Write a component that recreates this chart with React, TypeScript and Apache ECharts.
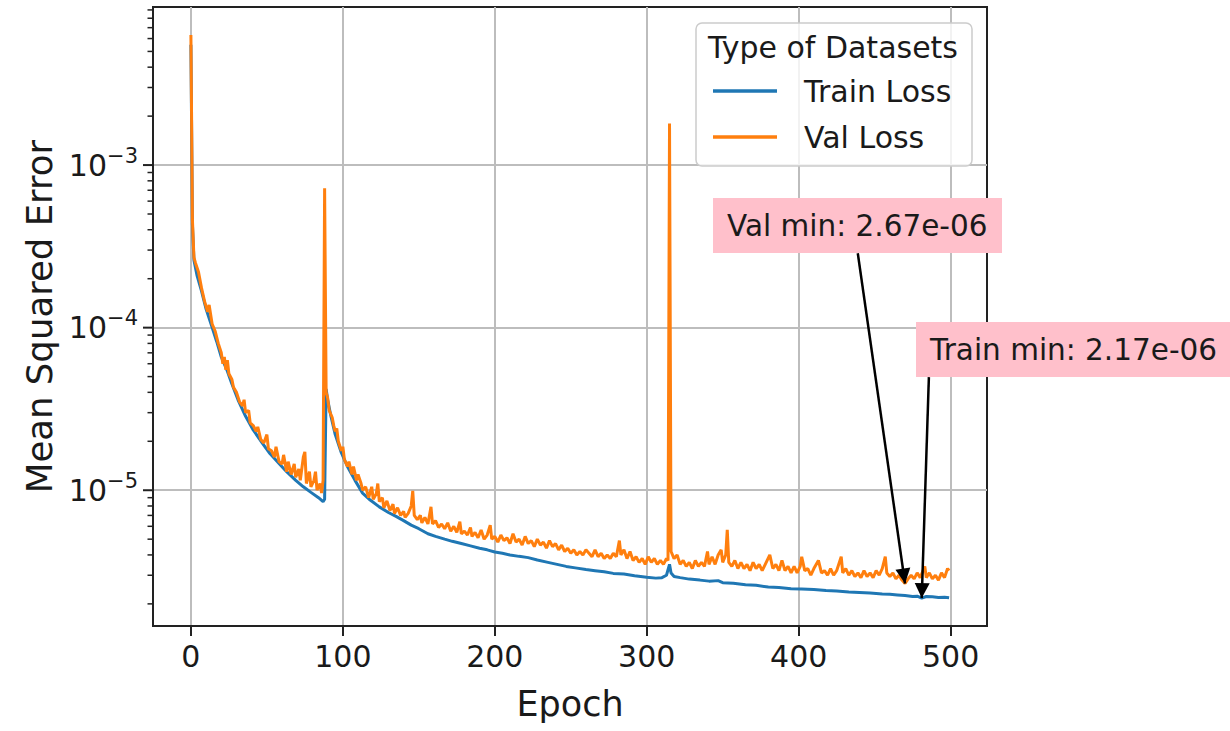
import React, { useEffect, useRef } from "react";
import * as echarts from "echarts";

// ---- data ----
const trainEpoch = [0,1,2,4,7,10,14,17,20,24,27,31,36,41,47,52,58,63,69,74,79,84,87,88,89,90,92,95,99,103,108,113,118,124,130,135,140,145,150,156,161,167,172,178,184,190,195,200,205,210,216,222,228,235,241,247,253,260,266,272,278,285,292,300,306,310,313,315,316,318,322,328,335,341,347,350,357,365,372,380,387,395,402,410,418,425,433,440,447,455,460,465,470,475,478,481,484,488,492,496,499];
const trainLoss = [5.5e-3,4.3e-4,2.6e-4,2.1e-4,1.68e-4,1.3e-4,1.0e-4,8.2e-5,6.6e-5,5.4e-5,4.5e-5,3.6e-5,2.85e-5,2.35e-5,1.95e-5,1.68e-5,1.46e-5,1.3e-5,1.15e-5,1.05e-5,9.7e-6,9.0e-6,8.5e-6,8.8e-6,4.2e-5,3.6e-5,2.9e-5,2.2e-5,1.7e-5,1.4e-5,1.15e-5,9.6e-6,8.7e-6,7.9e-6,7.3e-6,6.9e-6,6.5e-6,6.1e-6,5.8e-6,5.4e-6,5.2e-6,5.0e-6,4.85e-6,4.7e-6,4.55e-6,4.4e-6,4.3e-6,4.17e-6,4.1e-6,4.0e-6,3.92e-6,3.85e-6,3.72e-6,3.6e-6,3.5e-6,3.4e-6,3.33e-6,3.25e-6,3.2e-6,3.15e-6,3.08e-6,3.05e-6,2.98e-6,2.92e-6,2.88e-6,2.9e-6,3.0e-6,3.5e-6,3.1e-6,2.95e-6,2.9e-6,2.84e-6,2.8e-6,2.76e-6,2.78e-6,2.7e-6,2.68e-6,2.62e-6,2.6e-6,2.54e-6,2.52e-6,2.48e-6,2.47e-6,2.45e-6,2.42e-6,2.4e-6,2.37e-6,2.35e-6,2.33e-6,2.3e-6,2.29e-6,2.27e-6,2.25e-6,2.22e-6,2.23e-6,2.17e-6,2.22e-6,2.21e-6,2.19e-6,2.2e-6,2.18e-6];

const valEpoch = [0,1,2,3,5,7,9,11,12,14,16,18,20,21,22,23,24,25,27,28,30,32,34,35,36,38,39,41,43,44,46,48,50,51,53,55,56,58,60,61,63,64,66,68,69,71,72,74,75,76,78,79,81,82,83,85,86,87,88,89,90,91,93,94,95,96,97,99,100,101,103,104,106,107,109,110,112,113,115,117,119,120,122,123,124,126,127,129,131,133,134,136,138,140,141,143,145,146,147,149,151,152,154,156,158,159,161,163,165,167,169,171,173,175,177,178,180,182,184,185,187,189,191,193,195,197,198,200,202,204,206,208,210,212,214,216,218,220,222,224,226,228,230,232,234,236,238,240,242,244,246,248,250,252,254,256,258,260,262,264,266,268,270,272,274,276,278,280,282,283,285,287,289,291,293,295,297,299,301,303,305,307,309,311,313,314,315,316,318,320,322,324,326,328,330,332,334,336,338,340,341,343,345,347,349,350,352,353,354,356,358,360,362,364,366,368,370,372,374,376,378,381,383,385,387,389,391,393,395,397,399,401,402,404,406,408,410,413,415,417,419,421,423,425,428,429,431,433,435,437,439,441,443,445,447,449,451,453,455,457,458,460,462,464,466,468,470,472,474,476,478,480,483,484,486,488,490,492,494,496,498,499];
const valLoss = [6.3e-3,4.6e-4,2.7e-4,2.5e-4,2.2e-4,1.75e-4,1.45e-4,1.25e-4,1.38e-4,1.05e-4,9.5e-5,8.0e-5,7.0e-5,6.0e-5,6.6e-5,5.5e-5,6.3e-5,5.2e-5,4.8e-5,4.3e-5,4.0e-5,3.5e-5,3.3e-5,3.6e-5,3.0e-5,3.1e-5,2.6e-5,2.5e-5,2.3e-5,2.45e-5,2.05e-5,1.95e-5,2.2e-5,1.8e-5,1.75e-5,1.6e-5,1.85e-5,1.5e-5,1.45e-5,1.65e-5,1.3e-5,1.5e-5,1.25e-5,1.45e-5,1.2e-5,1.35e-5,1.15e-5,1.6e-5,1.72e-5,1.1e-5,1.3e-5,1.05e-5,1.15e-5,1.3e-5,1.0e-5,1.1e-5,9.6e-6,1.15e-5,7.2e-4,4.0e-5,3.7e-5,3.1e-5,2.8e-5,2.5e-5,2.3e-5,2.4e-5,2.0e-5,1.75e-5,1.85e-5,1.55e-5,1.4e-5,1.5e-5,1.25e-5,1.4e-5,1.15e-5,1.25e-5,1.1e-5,1.0e-5,1.05e-5,9.0e-6,1.05e-5,8.8e-6,9.5e-6,1.1e-5,8.5e-6,9.0e-6,7.8e-6,8.6e-6,7.5e-6,8.2e-6,7.2e-6,7.8e-6,7.0e-6,7.4e-6,6.8e-6,7.2e-6,8.0e-6,9.9e-6,7.0e-6,6.6e-6,7.0e-6,6.3e-6,6.8e-6,6.2e-6,7.9e-6,6.2e-6,6.5e-6,5.9e-6,6.2e-6,5.8e-6,6.3e-6,5.6e-6,6.0e-6,5.5e-6,6.4e-6,5.4e-6,5.6e-6,5.3e-6,5.9e-6,5.2e-6,5.5e-6,5.1e-6,5.7e-6,5.0e-6,5.3e-6,6.1e-6,5.0e-6,5.2e-6,4.8e-6,5.3e-6,4.9e-6,5.1e-6,4.7e-6,5.4e-6,4.8e-6,5.0e-6,4.6e-6,5.2e-6,4.7e-6,4.9e-6,4.5e-6,5.0e-6,4.6e-6,4.8e-6,4.4e-6,4.9e-6,4.5e-6,4.7e-6,4.3e-6,4.6e-6,4.2e-6,4.4e-6,4.1e-6,4.3e-6,4.0e-6,4.2e-6,4.0e-6,4.3e-6,4.1e-6,3.9e-6,4.3e-6,3.9e-6,4.1e-6,3.8e-6,4.0e-6,3.8e-6,4.1e-6,3.9e-6,4.9e-6,4.0e-6,4.3e-6,3.8e-6,4.2e-6,3.7e-6,3.9e-6,3.6e-6,3.8e-6,3.5e-6,3.9e-6,3.6e-6,3.8e-6,3.5e-6,3.7e-6,3.5e-6,3.8e-6,3.7e-6,1.8e-3,4.2e-6,3.8e-6,4.0e-6,3.5e-6,3.7e-6,3.4e-6,3.6e-6,3.3e-6,3.7e-6,3.4e-6,3.6e-6,3.4e-6,4.2e-6,3.5e-6,3.9e-6,3.5e-6,4.0e-6,4.3e-6,3.6e-6,4.0e-6,5.7e-6,3.6e-6,3.4e-6,3.7e-6,3.3e-6,3.6e-6,3.3e-6,3.5e-6,3.2e-6,3.6e-6,3.3e-6,3.5e-6,3.2e-6,3.5e-6,4.0e-6,3.3e-6,3.5e-6,3.2e-6,3.7e-6,3.2e-6,3.4e-6,3.1e-6,3.4e-6,3.1e-6,3.4e-6,3.9e-6,3.2e-6,3.3e-6,3.0e-6,3.3e-6,3.7e-6,3.1e-6,3.2e-6,3.0e-6,3.3e-6,3.0e-6,3.2e-6,3.9e-6,3.1e-6,3.3e-6,3.0e-6,3.2e-6,2.95e-6,3.1e-6,2.9e-6,3.2e-6,2.95e-6,3.1e-6,2.9e-6,3.2e-6,3.0e-6,3.3e-6,3.9e-6,3.1e-6,2.95e-6,3.1e-6,2.85e-6,3.0e-6,2.8e-6,2.67e-6,2.85e-6,3.0e-6,2.85e-6,3.1e-6,2.9e-6,3.4e-6,2.9e-6,3.1e-6,2.85e-6,3.0e-6,2.8e-6,3.1e-6,2.9e-6,3.3e-6,3.2e-6];

const xTickValues = [0, 100, 200, 300, 400, 500];
const yMajorTickValues = [1e-5, 1e-4, 1e-3];
const minorMantissas = [2, 3, 4, 5, 6, 7, 8, 9];
const minorExponents = [-6, -5, -4, -3];

const valMin = { epoch: 470, value: 2.67e-6, text: "Val min: 2.67e-06" };
const trainMin = { epoch: 481, value: 2.17e-6, text: "Train min: 2.17e-06" };
const valArrowStart = [438.9, 2.87e-4];
const trainArrowStart = [485.7, 4.96e-5];

const X_MIN = -24.95;
const X_MAX = 523.95;
const Y_MIN = 1.462e-6;
const Y_MAX = 9.38e-3;

const FONT = '"DejaVu Sans", "Noto Sans", sans-serif';
const TXT = "#1a1a1a";
const BLUE = "#1f77b4";
const ORANGE = "#ff7f0e";
const HEAD = 15;

export default function App() {
  const ref = useRef<HTMLDivElement>(null);

  useEffect(() => {
    if (!ref.current) return;
    const chart = echarts.init(ref.current, undefined, { renderer: "svg" });

    const minorTicks: number[] = [];
    minorExponents.forEach((e) =>
      minorMantissas.forEach((m) => {
        const v = m * Math.pow(10, e);
        if (v > Y_MIN && v < Y_MAX) minorTicks.push(v);
      })
    );

    const tickSeries = (vals: number[], len: number, lw: number, name: string) => ({
      type: "custom",
      name,
      silent: true,
      clip: false,
      z: 3,
      data: vals.map((v) => [X_MIN, v]),
      renderItem: (_p: any, api: any) => {
        const pt = api.coord([api.value(0), api.value(1)]);
        return {
          type: "line",
          shape: { x1: pt[0] - len, y1: pt[1], x2: pt[0], y2: pt[1] },
          style: { stroke: "#222", lineWidth: lw },
        };
      },
    });

    const option: any = {
      animation: false,
      backgroundColor: "#ffffff",
      grid: {
        left: 153,
        right: 243,
        top: 7,
        bottom: 105,
        show: true,
        borderColor: "#222",
        borderWidth: 2,
        backgroundColor: "transparent",
        containLabel: false,
        outerBoundsMode: "none",
      },
      legend: {
        data: [
          { name: "Train Loss", icon: "rect" },
          { name: "Val Loss", icon: "rect" },
        ],
        orient: "vertical",
        left: 708,
        top: 70,
        itemWidth: 64,
        itemHeight: 3.5,
        itemGap: 14,
        selectedMode: false,
        z: 6,
        textStyle: {
          fontFamily: FONT,
          fontSize: 30,
          color: TXT,
          lineHeight: 32,
          padding: [0, 0, 0, 22],
        },
      },
      xAxis: {
        type: "value",
        min: X_MIN,
        max: X_MAX,
        name: "Epoch",
        nameLocation: "middle",
        nameGap: 60,
        nameTextStyle: { fontFamily: FONT, fontSize: 35, color: TXT },
        axisLine: { show: true, onZero: false, lineStyle: { color: "#222", width: 2 } },
        axisTick: {
          show: true,
          length: 10,
          lineStyle: { color: "#222", width: 2 },
          customValues: xTickValues,
        },
        axisLabel: {
          customValues: xTickValues,
          fontFamily: FONT,
          fontSize: 30,
          color: TXT,
          margin: 15,
          formatter: (v: number) =>
            Math.abs(v - Math.round(v)) < 1e-6 && xTickValues.indexOf(Math.round(v)) >= 0 ? String(Math.round(v)) : "",
        },
        splitLine: {
          show: true,
          lineStyle: { color: "#bdbdbd", width: 2 },
        },
      },
      yAxis: {
        type: "log",
        logBase: 10,
        min: Y_MIN,
        max: Y_MAX,
        name: "Mean Squared Error",
        nameLocation: "middle",
        nameGap: 92,
        nameTextStyle: { fontFamily: FONT, fontSize: 35.5, color: TXT },
        axisLine: { show: true, onZero: false, lineStyle: { color: "#222", width: 2 } },
        axisTick: { show: false },
        minorTick: { show: false },
        axisLabel: {
          margin: 15,
          showMinLabel: false,
          showMaxLabel: false,
          formatter: (v: number) => {
            const e = Math.log10(v);
            const r = Math.round(e);
            if (Math.abs(e - r) > 1e-6) return "";
            return "{b|10}{s|\u2212" + String(-r) + "}";
          },
          rich: {
            b: { fontFamily: FONT, fontSize: 30, color: TXT, lineHeight: 40, verticalAlign: "middle" },
            s: { fontFamily: FONT, fontSize: 21, color: TXT, lineHeight: 20, verticalAlign: "top" },
          },
        },
        splitLine: {
          show: true,
          showMinLine: false,
          showMaxLine: false,
          lineStyle: { color: "#bdbdbd", width: 2 },
        },
      },
      series: [
        {
          name: "Train Loss",
          type: "line",
          data: trainEpoch.map((e, i) => [e, trainLoss[i]]),
          symbol: "none",
          showSymbol: false,
          lineStyle: { color: BLUE, width: 3 },
          itemStyle: { color: BLUE },
          z: 2,
        },
        {
          name: "Val Loss",
          type: "line",
          data: valEpoch.map((e, i) => [e, valLoss[i]]),
          symbol: "none",
          showSymbol: false,
          lineStyle: { color: ORANGE, width: 3 },
          itemStyle: { color: ORANGE },
          z: 3,
          markLine: {
            silent: true,
            symbol: ["none", "triangle"],
            symbolSize: HEAD,
            label: { show: false },
            lineStyle: { color: "#000", width: 2.5, type: "solid", opacity: 1 },
            emphasis: { disabled: true },
            z: 7,
            data: [
              [
                { coord: valArrowStart },
                { coord: [valMin.epoch, valMin.value], symbolOffset: [0, HEAD / 2] },
              ],
              [
                { coord: trainArrowStart },
                { coord: [trainMin.epoch, trainMin.value], symbolOffset: [0, HEAD / 2] },
              ],
            ],
          },
        },
        tickSeries(yMajorTickValues, 10, 2, "yMajorTicks"),
        tickSeries(minorTicks, 5.5, 1.5, "yMinorTicks"),
      ],
      graphic: [
        {
          type: "rect",
          z: 5,
          shape: { x: 696, y: 23, width: 276, height: 143, r: 6 },
          style: { fill: "rgba(255,255,255,0.8)", stroke: "#cccccc", lineWidth: 1.5 },
        },
        {
          type: "text",
          z: 6,
          style: {
            text: "Type of Datasets",
            x: 833,
            y: 47,
            align: "center",
            verticalAlign: "middle",
            fontFamily: FONT,
            fontSize: 30,
            fill: TXT,
          },
        },
        {
          type: "rect",
          z: 8,
          shape: { x: 713, y: 198, width: 289, height: 55 },
          style: { fill: "#ffc0cb" },
        },
        {
          type: "text",
          z: 9,
          style: {
            text: valMin.text,
            x: 727,
            y: 226,
            align: "left",
            verticalAlign: "middle",
            fontFamily: FONT,
            fontSize: 29.5,
            fill: TXT,
          },
        },
        {
          type: "rect",
          z: 8,
          shape: { x: 916, y: 322, width: 330, height: 55 },
          style: { fill: "#ffc0cb" },
        },
        {
          type: "text",
          z: 9,
          style: {
            text: trainMin.text,
            x: 930,
            y: 350,
            align: "left",
            verticalAlign: "middle",
            fontFamily: FONT,
            fontSize: 29.5,
            fill: TXT,
          },
        },
      ],
    };

    chart.setOption(option);
    return () => chart.dispose();
  }, []);

  return (
    <div
      ref={ref}
      style={{ position: "fixed", left: 0, top: 0, width: 1230, height: 731, background: "#fff" }}
    />
  );
}
